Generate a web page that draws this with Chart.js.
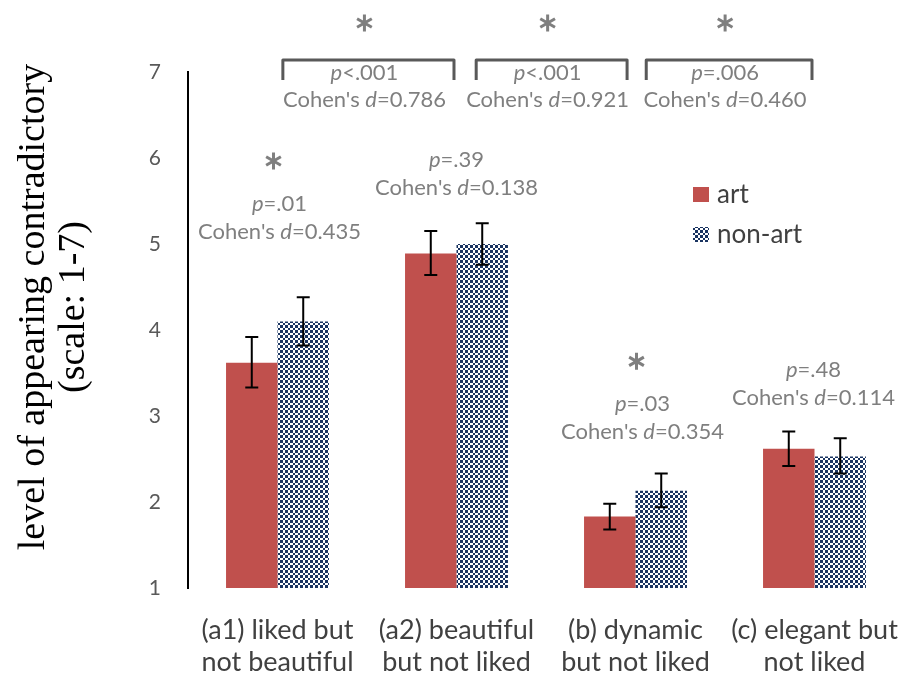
<!DOCTYPE html>
<html lang="en">
<head>
<meta charset="UTF-8">
<title>Level of appearing contradictory</title>
<script src="https://cdn.jsdelivr.net/npm/chart.js"></script>
<style>
  html, body { margin: 0; padding: 0; background: #fff; }
</style>
</head>
<body>
<canvas id="chart" width="904" height="673"></canvas>
<script>
// values
const categories = [['(a1) liked but', 'not beautiful'], ['(a2) beautiful', 'but not liked'], ['(b) dynamic', 'but not liked'], ['(c) elegant but', 'not liked']];
const artMeans = [3.62, 4.89, 1.83, 2.62];
const artLow = [3.33, 4.64, 1.68, 2.42];
const artHigh = [3.92, 5.15, 1.98, 2.82];
const nonArtMeans = [4.10, 5.00, 2.13, 2.53];
const nonArtLow = [3.82, 4.76, 1.94, 2.33];
const nonArtHigh = [4.38, 5.24, 2.33, 2.74];
const yTicks = [1, 2, 3, 4, 5, 6, 7];

// art vs non-art inside each category
const groupP = ['=.01', '=.39', '=.03', '=.48'];
const groupD = ['0.435', '0.138', '0.354', '0.114'];
const groupSig = [true, false, true, false];

// neighbouring categories compared
const pairP = ['<.001', '<.001', '=.006'];
const pairD = ['0.786', '0.921', '0.460'];
const pairSig = [true, true, true];

const yTitle = ['level of appearing contradictory', '(scale: 1-7)'];

// layout bits for the annotations (not data)
const noteLevel = [5.14, 5.65, 2.81, 3.21];   // y of the Cohen's d line, in axis units
const noteShift = [2, 0, 7, -1];
const bracketSpan = [[0.03, 0.986], [1.11, 1.953], [2.06, 2.986]];

const SANS = 'Lato';
const GREY = '#7f7f7f';
const NOTE_SIZE = 22;

// checkered fill for the non-art bars (cells of 3 and 2 px, ~2.5 px average)
function checker() {
    const edges = [0, 3, 5, 8, 10];
    const c = document.createElement('canvas');
    c.width = 10; c.height = 10;
    const g = c.getContext('2d');
    g.fillStyle = '#fff';
    g.fillRect(0, 0, 10, 10);
    g.fillStyle = '#1a3461';
    for (let i = 0; i < 4; i++) {
        for (let j = 0; j < 4; j++) {
            if ((i + j) % 2 === 0) {
                g.fillRect(edges[i], edges[j], edges[i + 1] - edges[i], edges[j + 1] - edges[j]);
            }
        }
    }
    return g.createPattern(c, 'repeat');
}
const navyPattern = checker();

function richText(ctx, parts, cx, cy, size, color) {
    ctx.save();
    ctx.textBaseline = 'middle';
    ctx.textAlign = 'left';
    ctx.fillStyle = color;
    const fonts = parts.map(p => (p.i ? 'italic ' : '') + size + 'px ' + SANS);
    let total = 0;
    parts.forEach((p, k) => { ctx.font = fonts[k]; total += ctx.measureText(p.t).width; });
    let x = cx - total / 2;
    parts.forEach((p, k) => {
        ctx.font = fonts[k];
        ctx.fillText(p.t, x, cy);
        x += ctx.measureText(p.t).width;
    });
    ctx.restore();
}

function star(ctx, x, y) {
    ctx.save();
    ctx.strokeStyle = GREY;
    ctx.lineWidth = 3;
    ctx.beginPath();
    for (let k = 0; k < 3; k++) {
        const a = Math.PI / 2 + k * Math.PI / 3;
        ctx.moveTo(x - 8.5 * Math.cos(a), y - 8.5 * Math.sin(a));
        ctx.lineTo(x + 8.5 * Math.cos(a), y + 8.5 * Math.sin(a));
    }
    ctx.stroke();
    ctx.restore();
}

const errorBars = {
    id: 'errorBars',
    afterDatasetsDraw(chart) {
        const ctx = chart.ctx;
        const y = chart.scales.y;
        [[artLow, artHigh], [nonArtLow, nonArtHigh]].forEach(([lo, hi], d) => {
            chart.getDatasetMeta(d).data.forEach((bar, i) => {
                const yl = y.getPixelForValue(lo[i]);
                const yh = y.getPixelForValue(hi[i]);
                ctx.save();
                ctx.strokeStyle = '#000';
                ctx.lineWidth = 2;
                ctx.beginPath();
                ctx.moveTo(bar.x, yl); ctx.lineTo(bar.x, yh);
                ctx.moveTo(bar.x - 6.5, yh); ctx.lineTo(bar.x + 6.5, yh);
                ctx.moveTo(bar.x - 6.5, yl); ctx.lineTo(bar.x + 6.5, yl);
                ctx.stroke();
                ctx.restore();
            });
        });
    }
};

const annotations = {
    id: 'annotations',
    afterDraw(chart) {
        const ctx = chart.ctx;
        const x = chart.scales.x;
        const y = chart.scales.y;
        const top = chart.chartArea.top;

        // per category notes
        groupP.forEach((p, i) => {
            const cx = x.getPixelForValue(i) + noteShift[i];
            const dy = y.getPixelForValue(noteLevel[i]);
            richText(ctx, [{ t: "Cohen's " }, { t: 'd', i: true }, { t: '=' + groupD[i] }], cx, dy, NOTE_SIZE, GREY);
            richText(ctx, [{ t: 'p', i: true }, { t: p }], cx, dy - 28, NOTE_SIZE, GREY);
            if (groupSig[i]) star(ctx, cx - 6, dy - 71);
        });

        // brackets between categories
        pairP.forEach((p, k) => {
            const x0 = x.getPixelForValue(bracketSpan[k][0]);
            const x1 = x.getPixelForValue(bracketSpan[k][1]);
            const cx = (x0 + x1) / 2 - 4;
            ctx.save();
            ctx.strokeStyle = '#595959';
            ctx.lineWidth = 3;
            ctx.lineJoin = 'round';
            ctx.beginPath();
            ctx.moveTo(x0, top + 8);
            ctx.lineTo(x0, top - 12);
            ctx.lineTo(x1, top - 12);
            ctx.lineTo(x1, top + 8);
            ctx.stroke();
            ctx.restore();
            richText(ctx, [{ t: 'p', i: true }, { t: p }], cx, top + 1, NOTE_SIZE, GREY);
            richText(ctx, [{ t: "Cohen's " }, { t: 'd', i: true }, { t: '=' + pairD[k] }], cx, top + 28, NOTE_SIZE, GREY);
            if (pairSig[k]) star(ctx, cx, top - 49);
        });

        // legend
        const items = [['art', '#c0504d'], ['non-art', navyPattern]];
        items.forEach(([label, fill], k) => {
            const ly = 195 + k * 40;
            ctx.save();
            ctx.fillStyle = fill;
            ctx.fillRect(693, ly - 8, 16, 15);
            ctx.fillStyle = '#404040';
            ctx.font = '26px ' + SANS;
            ctx.textBaseline = 'middle';
            ctx.fillText(label, 717, ly);
            ctx.restore();
        });

        // y axis title
        ctx.save();
        ctx.translate(0, 307);
        ctx.rotate(-Math.PI / 2);
        ctx.fillStyle = '#000';
        ctx.font = '38px "Liberation Serif"';
        ctx.textAlign = 'center';
        ctx.textBaseline = 'alphabetic';
        ctx.fillText(yTitle[0], 0, 44);
        ctx.fillText(yTitle[1], 0, 84);
        ctx.restore();
    }
};

new Chart(document.getElementById('chart'), {
    type: 'bar',
    data: {
        labels: categories,
        datasets: [
            { label: 'art', data: artMeans, backgroundColor: '#c0504d', borderWidth: 0 },
            { label: 'non-art', data: nonArtMeans, backgroundColor: navyPattern, borderWidth: 0 }
        ]
    },
    options: {
        responsive: false,
        animation: false,
        layout: { padding: { top: 72, left: 0, right: 0, bottom: 0 } },
        datasets: { bar: { barPercentage: 1, categoryPercentage: 0.575 } },
        plugins: { legend: { display: false }, tooltip: { enabled: false } },
        scales: {
            x: {
                grid: { display: false, drawTicks: false },
                border: { display: false },
                ticks: { color: '#404040', font: { family: SANS, size: 27, lineHeight: 1.2 }, padding: 26, maxRotation: 0, autoSkip: false },
                afterFit(scale) {
                    scale.height = 85;
                    scale.paddingLeft = 0;
                    scale.paddingRight = 0;
                }
            },
            y: {
                min: 1,
                max: 7,
                grid: { display: false, drawTicks: false },
                border: { display: true, color: '#000', width: 2 },
                ticks: { color: '#595959', font: { family: SANS, size: 21 }, padding: 27 },
                afterBuildTicks(scale) { scale.ticks = yTicks.map(v => ({ value: v })); },
                afterFit(scale) { scale.width = 188; }
            }
        }
    },
    plugins: [errorBars, annotations]
});
</script>
</body>
</html>
